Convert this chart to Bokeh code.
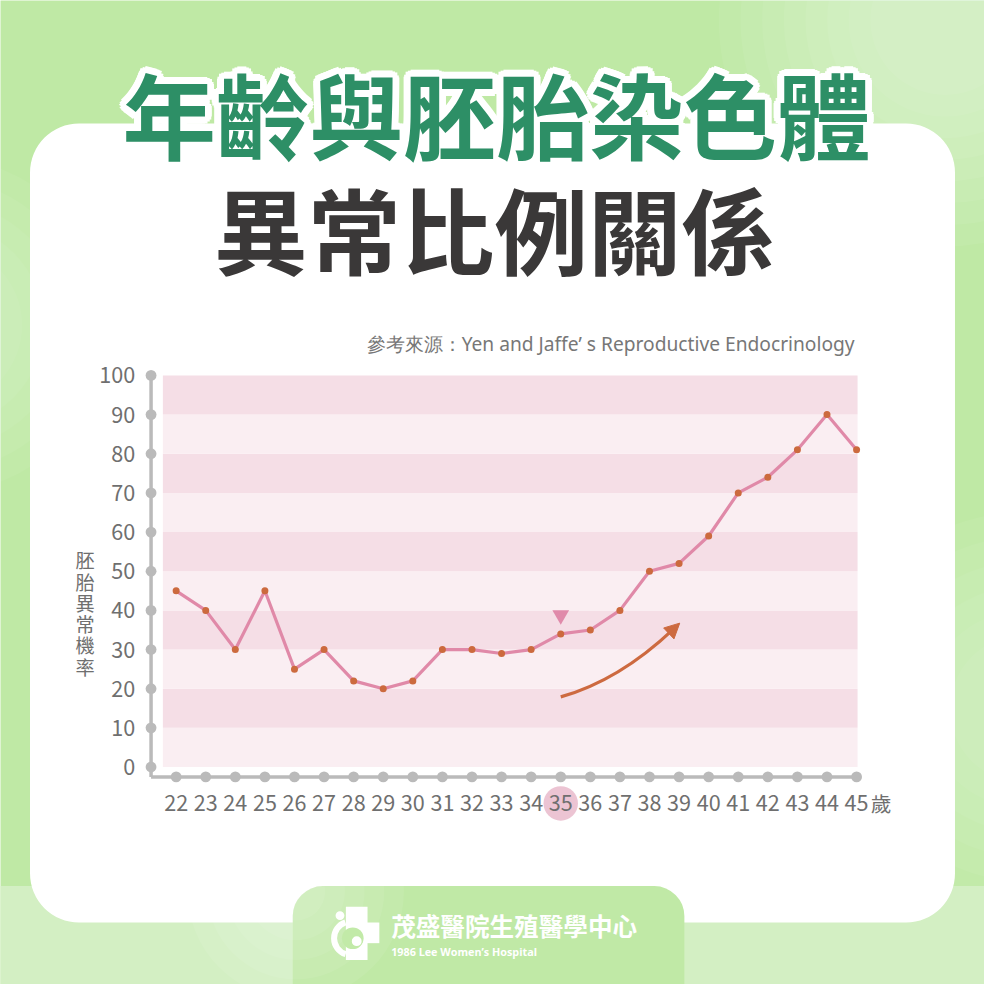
import math
from bokeh.plotting import figure
from bokeh.models import Range1d, BoxAnnotation, Arrow, NormalHead
from bokeh.core.properties import value
from bokeh.embed import file_html
from bokeh.resources import INLINE

# ---------------- data ----------------
ages = list(range(22, 46))
rates = [45, 40, 30, 45, 25, 30, 22, 20, 22, 30, 30, 29, 30,
         34, 35, 40, 50, 52, 59, 70, 74, 81, 90, 81]
y_ticks = [0, 10, 20, 30, 40, 50, 60, 70, 80, 90, 100]
x_tick_labels = [str(a) for a in ages]
y_tick_labels = [str(v) for v in y_ticks]
title1 = "年齡與胚胎染色體"
title2 = "異常比例關係"
source_note = "參考來源：Yen and Jaffe’ s Reproductive Endocrinology"
y_title = "胚胎異常機率"
x_unit = "歲"
hospital_zh = "茂盛醫院生殖醫學中心"
hospital_en = "1986 Lee Women’s Hospital"
highlight_age = 35
trend_from_age, trend_to_age = 35, 39

# ---------------- layout (design drawn on a 1000px board, scaled to fit) ----------------
W = H = 984
S = W / 1000.0
FONT = value("Noto Sans CJK TC")


def X(sx):
    return sx * S


def Y(sy):
    return sy * S


def fs(px):
    return f"{px * S:.1f}px"


AGE_PX0, AGE_PX1 = 178.5, 870.0
per = (AGE_PX1 - AGE_PX0) * S / (ages[-1] - ages[0])
age_start = ages[0] - X(AGE_PX0) / per
age_end = age_start + W / per

PCT_ZERO_PX, PCT_TOP_PX = 779.0, 381.0
ppu = (PCT_ZERO_PX - PCT_TOP_PX) * S / 100.0
pct_start = (Y(PCT_ZERO_PX) - H) / ppu
pct_end = Y(PCT_ZERO_PX) / ppu


def a_off(px):
    return px * S / per


def p_off(px):
    return px * S / ppu


p = figure(width=W, height=H, x_range=Range1d(0, W), y_range=Range1d(H, 0),
           x_axis_type=None, y_axis_type=None, toolbar_location=None,
           output_backend="svg", min_border=0)
p.outline_line_color = None
p.background_fill_color = "#bfe9a5"
p.border_fill_color = "#bfe9a5"
p.extra_x_ranges = {"age": Range1d(age_start, age_end)}
p.extra_y_ranges = {"pct": Range1d(pct_start, pct_end)}
R = dict(x_range_name="age", y_range_name="pct")

# ---------------- background decoration (soft light blobs) ----------------
for k in range(8):
    p.circle(x=[X(960)], y=[Y(20)], radius=X(230 - 22 * k), fill_color="white",
             fill_alpha=0.06, line_color=None, level="image")
for k in range(6):
    p.circle(x=[X(-60)], y=[Y(330)], radius=X(170 - 22 * k), fill_color="white",
             fill_alpha=0.05, line_color=None, level="image")
for k in range(6):
    p.circle(x=[X(1040)], y=[Y(720)], radius=X(200 - 25 * k), fill_color="white",
             fill_alpha=0.05, line_color=None, level="image")
p.quad(left=[0], right=[W], top=[Y(900)], bottom=[H], fill_color="#d3efc3",
       line_color=None, level="image")

card = BoxAnnotation(left=X(30), right=X(970), top=Y(125), bottom=Y(937),
                     fill_color="white", fill_alpha=1, line_color=None,
                     border_radius=int(round(X(50))), level="underlay")
p.add_layout(card)
rt = int(round(X(30)))
tab = BoxAnnotation(left=X(297), right=X(695), top=Y(900), bottom=H + 40,
                    fill_color="#c0e9a6", fill_alpha=1, line_color=None,
                    border_radius=(rt, rt, 0, 0), level="underlay")
p.add_layout(tab)
for k in range(5):
    p.circle(x=[X(300)], y=[Y(905)], radius=X(110 - 20 * k), fill_color="white",
             fill_alpha=0.07, line_color=None)

# ---------------- titles ----------------
n_halo = 16
halo_r = 7 * S
hx = [halo_r * math.cos(2 * math.pi * i / n_halo) for i in range(n_halo)]
hy = [halo_r * math.sin(2 * math.pi * i / n_halo) for i in range(n_halo)]
p.text(x=[X(504)] * n_halo, y=[Y(114)] * n_halo, text=[title1] * n_halo,
       x_offset=hx, y_offset=hy, text_font=FONT, text_font_style="bold",
       text_font_size=fs(95), text_color="white", text_align="center",
       text_baseline="middle")
p.text(x=[X(504)], y=[Y(114)], text=[title1], text_font=FONT, text_font_style="bold",
       text_font_size=fs(95), text_color="#2d8f66", text_align="center",
       text_baseline="middle")
p.text(x=[X(502)], y=[Y(231)], text=[title2], text_font=FONT, text_font_style="bold",
       text_font_size=fs(95), text_color="#3a3838", text_align="center",
       text_baseline="middle")
p.text(x=[X(868)], y=[Y(349)], text=[source_note], text_font=value("Noto Sans"),
       text_font_size=fs(19.5), text_color="#777777", text_align="right",
       text_baseline="middle")

# ---------------- chart ----------------
band_left = ages[0] - a_off(AGE_PX0 - 165)
band_right = ages[-1] + a_off(871 - AGE_PX1)
nb = len(y_ticks) - 1
band_colors = ["#faeef2" if i % 2 == 0 else "#f5dee6" for i in range(nb)]
p.quad(left=[band_left] * nb, right=[band_right] * nb,
       bottom=y_ticks[:-1], top=y_ticks[1:], fill_color=band_colors, line_color=None, **R)

axis_age = ages[0] - a_off(AGE_PX0 - 153)
axis_pct = -p_off(789 - PCT_ZERO_PX)
AX = "#bababa"
p.line(x=[axis_age, axis_age], y=[axis_pct, y_ticks[-1]], line_color=AX, line_width=3.5, **R)
p.line(x=[axis_age, ages[-1]], y=[axis_pct, axis_pct], line_color=AX, line_width=3.5, **R)
p.scatter(x=[axis_age] * len(y_ticks), y=y_ticks, size=11 * S, fill_color=AX,
          line_color=None, **R)
p.scatter(x=ages, y=[axis_pct] * len(ages), size=11 * S, fill_color=AX, line_color=None, **R)

LBL = "#6f6f6f"
p.text(x=[axis_age - a_off(16)] * len(y_ticks), y=y_ticks, text=y_tick_labels,
       text_font=FONT, text_font_size=fs(22), text_color=LBL, text_align="right",
       text_baseline="middle", **R)

xlab_pct = axis_pct - p_off(27)
p.scatter(x=[highlight_age], y=[xlab_pct], size=35 * S, fill_color="#ecc4d3",
          line_color=None, **R)
p.text(x=ages, y=[xlab_pct] * len(ages), text=x_tick_labels, text_font=FONT,
       text_font_size=fs(22), text_color=LBL, text_align="center",
       text_baseline="middle", **R)
p.text(x=[ages[-1] + a_off(25)], y=[xlab_pct], text=[x_unit], text_font=FONT,
       text_font_size=fs(21), text_color=LBL, text_align="center",
       text_baseline="middle", **R)

p.text(x=[axis_age - a_off(153 - 86)], y=[p_off(PCT_ZERO_PX - 623)],
       text=["\n".join(y_title)], text_font=FONT, text_font_size=fs(19.5),
       text_color=LBL, text_align="center", text_baseline="middle",
       text_line_height=0.76, **R)

# data
p.line(x=ages, y=rates, line_color="#e089a8", line_width=3.2, **R)
p.scatter(x=ages, y=rates, size=7, fill_color="#cc6a3e", line_color=None, **R)

hi_rate = rates[ages.index(highlight_age)]
p.scatter(x=[highlight_age], y=[hi_rate + p_off(19)], marker="inverted_triangle",
          size=17 * S, fill_color="#e08aaa", line_color=None, **R)

# trend arrow (quadratic curve + head)
r_from = rates[ages.index(trend_from_age)]
start_pct = r_from - p_off(64)
end_age = trend_to_age - a_off(6)
end_pct = rates[ages.index(trend_to_age)] - p_off(67)
ctrl_age = trend_from_age + a_off(59)
ctrl_pct = start_pct + p_off(16.5)
ARC = "#cd6a40"
p.quadratic(x0=[trend_from_age], y0=[start_pct], x1=[end_age], y1=[end_pct],
            cx=[ctrl_age], cy=[ctrl_pct], line_color=ARC, line_width=3.2, **R)
dxp = (end_age - ctrl_age) * per
dyp = (end_pct - ctrl_pct) * ppu
norm = (dxp ** 2 + dyp ** 2) ** 0.5
tip_age = end_age + (9 * dxp / norm) / per
tip_pct = end_pct + (9 * dyp / norm) / ppu
p.add_layout(Arrow(x_start=end_age, y_start=end_pct, x_end=tip_age, y_end=tip_pct,
                   line_color=ARC, line_width=3,
                   end=NormalHead(size=15, fill_color=ARC, line_color=ARC),
                   **R))

# ---------------- footer ----------------
WH = "white"
p.quad(left=[X(351)], right=[X(373)], top=[Y(921)], bottom=[Y(975)], fill_color=WH,
       line_color=None)
p.quad(left=[X(360)], right=[X(385)], top=[Y(937)], bottom=[Y(958)], fill_color=WH,
       line_color=None)
p.circle(x=[X(358)], y=[Y(953)], radius=X(11), fill_color="#c2eaa8", line_color=None)
p.circle(x=[X(362)], y=[Y(956)], radius=X(5), fill_color=WH, line_color=None)
p.arc(x=[X(356)], y=[Y(953)], radius=X(17), start_angle=[1.9], end_angle=[4.4],
      line_color=WH, line_width=6)
p.circle(x=[X(345)], y=[Y(930)], radius=X(4.5), fill_color=WH, line_color=None)

p.text(x=[X(397)], y=[Y(940)], text=[hospital_zh], text_font=FONT, text_font_style="bold",
       text_font_size=fs(25), text_color=WH, text_align="left", text_baseline="middle")
p.text(x=[X(397)], y=[Y(966)], text=[hospital_en], text_font=value("Open Sans"),
       text_font_style="bold", text_font_size=fs(11), text_color=WH, text_align="left",
       text_baseline="middle")

open("out.html", "w").write(file_html(p, INLINE))
